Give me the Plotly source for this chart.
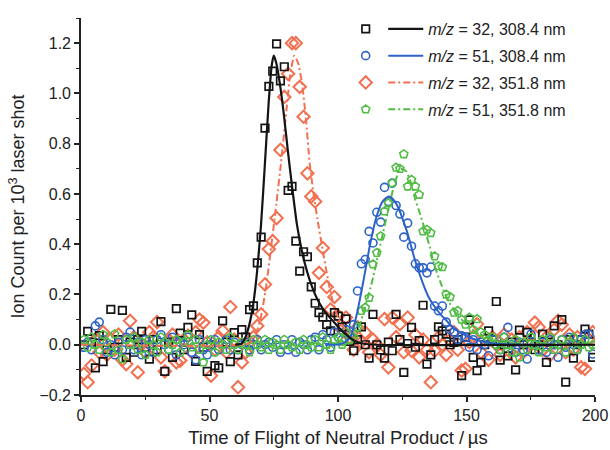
import numpy as np
import plotly.graph_objects as go

# Time-of-flight bins (microseconds), 1.5 us spacing
time_us = np.round(1.1 + 1.5 * np.arange(133), 1)

# Ion counts per 10^3 laser shots
counts_32_308 = [
    0.00, 0.053, 0.01, -0.092, 0.036, -0.067, -0.02, 0.141, -0.01, 0.02,
    0.137, -0.05, 0.01, -0.03, 0.02, 0.053, -0.01, -0.057, 0.02, -0.02,
    0.092, -0.106, 0.01, -0.05, 0.144, 0.046, -0.02, 0.069, 0.119, -0.066,
    0.04, -0.01, -0.106, 0.0, -0.083, -0.092, 0.095, 0.01, -0.067, 0.048,
    -0.04, 0.06, 0.03, 0.14, 0.155, 0.326, 0.428, 0.862, 1.028, 1.089,
    1.197, 1.05, 1.106, 0.614, 0.63, 0.412, 0.293, 0.37, 0.35, 0.23,
    0.165, 0.128, 0.11, 0.08, 0.055, 0.128, 0.114, 0.07, 0.103, 0.013,
    -0.024, 0.02, 0.071, 0.0, -0.053, 0.121, 0.0, -0.021, -0.053, 0.01,
    -0.024, 0.121, 0.02, -0.11, 0.005, 0.069, -0.01, 0.016, 0.157, -0.077,
    -0.04, 0.02, 0.071, 0.055, 0.042, 0.0, 0.009, 0.02, -0.123, 0.03,
    0.099, -0.05, -0.103, -0.07, 0.0, 0.055, 0.02, 0.172, -0.061, 0.0,
    -0.044, 0.01, -0.1, 0.058, 0.0, 0.049, 0.01, -0.02, 0.0, 0.042,
    -0.07, 0.01, 0.075, 0.0, 0.10, -0.149, 0.02, -0.053, 0.0, 0.02,
    0.062, 0.042, -0.05,
]
counts_51_308 = [
    -0.01, 0.01, -0.02, 0.075, 0.09, 0.02, -0.03, 0.0, -0.04, 0.01,
    -0.02, 0.03, 0.05, -0.02, 0.01, -0.04, 0.02, 0.0, -0.03, 0.02,
    0.04, 0.0, -0.02, 0.03, -0.04, 0.01, 0.0, 0.03, -0.03, -0.06,
    0.02, -0.02, -0.04, 0.0, 0.02, -0.02, 0.0, 0.02, -0.02, 0.01,
    -0.02, 0.0, 0.01, -0.02, 0.0, 0.02, -0.02, 0.0, 0.01, -0.01,
    0.02, -0.03, 0.0, -0.02, 0.02, -0.03, 0.01, 0.0, -0.02, 0.02,
    0.03, -0.02, 0.04, 0.02, -0.01, 0.05, 0.03, 0.02, 0.06, 0.04,
    0.08, 0.214, 0.322, 0.339, 0.451, 0.405, 0.527, 0.488, 0.626, 0.57,
    0.643, 0.554, 0.52, 0.428, 0.484, 0.392, 0.322, 0.306, 0.306, 0.286,
    0.309, 0.154, 0.135, 0.154, 0.09, 0.06, 0.05, 0.02, 0.036, 0.03,
    -0.01, 0.02, -0.02, 0.01, 0.0, -0.044, 0.02, 0.0, -0.02, 0.03,
    0.069, 0.0, -0.03, 0.01, -0.02, -0.057, 0.042, 0.0, -0.02, 0.01,
    -0.03, 0.02, 0.0, -0.05, 0.02, -0.01, 0.03, 0.0, -0.02, 0.02,
    0.04, 0.042, -0.037,
]
counts_32_352 = [
    -0.116, -0.149, -0.083, 0.02, -0.03, 0.05, -0.04, 0.02, -0.02, 0.04,
    -0.06, -0.077, 0.095, 0.03, -0.11, 0.0, -0.03, 0.05, 0.03, 0.09,
    -0.05, -0.106, 0.02, 0.04, -0.07, -0.063, 0.02, 0.036, -0.03, 0.05,
    0.1, 0.088, 0.01, -0.123, -0.02, 0.03, 0.055, -0.03, 0.15, 0.02,
    -0.169, -0.07, -0.03, 0.01, 0.03, 0.075, 0.121, 0.24, 0.381, 0.412,
    0.504, 0.775, 0.986, 1.078, 1.2, 1.2, 1.026, 0.907, 0.682, 0.59,
    0.57, 0.286, 0.385, 0.23, 0.14, 0.19, 0.115, 0.06, 0.108, 0.03,
    -0.02, 0.069, 0.01, 0.049, -0.03, 0.02, 0.0, -0.04, 0.102, -0.09,
    0.108, 0.03, 0.082, -0.03, 0.108, -0.024, 0.04, -0.05, 0.02, -0.02,
    -0.149, -0.024, 0.03, 0.0, -0.04, 0.02, 0.05, -0.02, -0.103, -0.096,
    0.01, 0.03, 0.082, -0.03, 0.02, -0.06, 0.03, 0.0, -0.04, 0.04,
    -0.02, 0.02, -0.05, 0.03, -0.03, 0.05, 0.0, 0.088, 0.07, -0.02,
    0.03, -0.04, 0.06, 0.095, 0.08, -0.03, 0.04, -0.02, 0.03, -0.09,
    -0.096, 0.02, 0.05,
]
counts_51_352 = [
    0.02, -0.01, 0.03, 0.0, -0.02, 0.04, 0.01, -0.03, 0.042, -0.02,
    -0.057, 0.02, 0.0, 0.03, -0.02, 0.01, -0.04, 0.02, 0.0, -0.03,
    0.03, 0.01, -0.02, 0.0, 0.02, -0.03, 0.01, 0.04, -0.01, 0.02,
    -0.02, -0.07, 0.0, 0.02, -0.03, 0.01, 0.0, -0.02, 0.03, 0.0,
    -0.02, 0.01, 0.0, -0.03, 0.02, 0.0, -0.01, 0.02, -0.02, 0.01,
    0.0, -0.02, 0.02, 0.0, -0.01, 0.01, -0.02, 0.02, 0.0, -0.01,
    0.02, -0.01, 0.03, 0.0, -0.02, 0.02, 0.03, 0.0, 0.05, 0.02,
    0.03, 0.07, 0.135, 0.148, 0.187, 0.32, 0.366, 0.432, 0.531, 0.564,
    0.643, 0.705, 0.70, 0.758, 0.63, 0.656, 0.63, 0.597, 0.451, 0.458,
    0.445, 0.352, 0.313, 0.309, 0.20, 0.19, 0.128, 0.135, 0.10, 0.08,
    0.108, 0.06, 0.102, 0.05, 0.04, 0.02, 0.03, 0.0, -0.02, 0.03,
    0.0, -0.03, 0.02, -0.05, 0.01, -0.02, 0.03, 0.0, -0.03, 0.02,
    -0.01, 0.03, -0.02, 0.0, 0.02, -0.03, 0.01, 0.03, -0.02, 0.0,
    0.02, -0.01, 0.0,
]

# Fitted time-of-flight profiles
fit_32_308_t = [60, 62.5, 64, 65.5, 67, 68.5, 70, 71.5, 73, 74.2, 75, 76, 77.5, 79,
                80.5, 82, 84, 86, 88, 90, 92, 94, 96, 98, 100, 103, 106, 110, 115, 200]
fit_32_308_y = [0, 0.005, 0.03, 0.08, 0.16, 0.29, 0.47, 0.71, 0.96, 1.11, 1.15, 1.12,
                1.03, 0.91, 0.77, 0.64, 0.48, 0.37, 0.29, 0.228, 0.18, 0.145, 0.118,
                0.095, 0.072, 0.042, 0.018, 0.004, 0, 0]
fit_51_308_t = [95, 99, 101, 103, 105, 107.5, 110, 112.5, 115, 117.5, 119.7, 121.5,
                123.5, 125, 127, 130, 133, 135, 137, 140, 142.3, 145, 148.7, 152,
                155, 160, 165, 172, 180]
fit_51_308_y = [0, 0, 0.003, 0.012, 0.035, 0.13, 0.26, 0.40, 0.51, 0.572, 0.59, 0.578,
                0.545, 0.505, 0.445, 0.335, 0.245, 0.195, 0.16, 0.12, 0.095, 0.066,
                0.042, 0.026, 0.016, 0.006, 0.002, 0, 0]
fit_32_352_t = [0, 64, 66, 68, 70, 72, 74, 76, 78, 80, 81.5, 83, 84.5, 86, 87.5, 89,
                90.5, 92, 94, 96, 98, 100, 102, 105, 108, 112, 118, 200]
fit_32_352_y = [0, 0, 0.01, 0.04, 0.11, 0.23, 0.39, 0.56, 0.74, 0.94, 1.08, 1.15, 1.12,
                1.04, 0.9, 0.72, 0.6, 0.5, 0.38, 0.265, 0.17, 0.11, 0.07, 0.035,
                0.015, 0.004, 0, 0]
fit_51_352_t = [100, 103, 105, 107, 110, 113.3, 116.5, 119.7, 122, 124.3, 126.5, 128.5,
                130, 132, 134, 135.8, 137.7, 139.7, 142.3, 146.2, 151.3, 156, 162,
                168, 175, 200]
fit_51_352_y = [0, 0, 0.01, 0.04, 0.13, 0.253, 0.40, 0.544, 0.64, 0.70, 0.69, 0.64,
                0.58, 0.518, 0.45, 0.385, 0.31, 0.253, 0.187, 0.121, 0.069, 0.035,
                0.012, 0.003, 0, 0]

series_labels = [
    "<i>m/z</i> = 32, 308.4 nm",
    "<i>m/z</i> = 51, 308.4 nm",
    "<i>m/z</i> = 32, 351.8 nm",
    "<i>m/z</i> = 51, 351.8 nm",
]

BLACK = "#141414"
BLUE = "#2d63c8"
ORANGE = "#f2704f"
GREEN = "#52bd45"
DASHDOT = "7px,3px,2px,3px"
FONT = "Liberation Sans, Arial, sans-serif"

fig = go.Figure()

# Data points (legend 1 holds the symbols only)
point_specs = [
    (counts_32_352, "diamond-open", 9.5, ORANGE, 2.0, 3),
    (counts_32_308, "square-open", 7.5, BLACK, 1.7, 1),
    (counts_51_308, "circle-open", 8, BLUE, 1.6, 2),
    (counts_51_352, "pentagon-open", 8.5, GREEN, 1.6, 4),
]
for vals, sym, size, col, lw, rank in point_specs:
    fig.add_trace(go.Scatter(
        x=time_us, y=vals, mode="markers", name="",
        marker=dict(symbol=sym, size=size, color=col, line=dict(width=lw, color=col)),
        legend="legend", legendrank=rank, legendgroup=f"p{rank}",
        showlegend=True,
    ))

# Fit curves (legend 2 holds the line samples and labels)
line_specs = [
    (fit_32_352_t, fit_32_352_y, ORANGE, DASHDOT, 2.0, 3),
    (fit_51_352_t, fit_51_352_y, GREEN, DASHDOT, 2.0, 4),
    (fit_51_308_t, fit_51_308_y, BLUE, "solid", 2.0, 2),
    (fit_32_308_t, fit_32_308_y, BLACK, "solid", 2.2, 1),
]
for tx, ty, col, dash, lw, rank in line_specs:
    fig.add_trace(go.Scatter(
        x=tx, y=ty, mode="lines", name=series_labels[rank - 1],
        line=dict(color=col, width=lw, dash=dash, shape="spline", smoothing=0.6),
        legend="legend2", legendrank=rank, legendgroup=f"l{rank}",
    ))

axis_common = dict(
    showline=True, linecolor="#222", linewidth=1.6,
    ticks="outside", ticklen=5, tickwidth=1.5, tickcolor="#222",
    showgrid=False, zeroline=False, mirror=False, automargin=False,
    tickfont=dict(family=FONT, size=16, color="#222"),
)

legend_common = dict(
    y=1.016, xanchor="left", yanchor="top",
    bgcolor="rgba(0,0,0,0)", borderwidth=0,
    font=dict(family=FONT, size=16, color="#222"),
    tracegroupgap=3,
)

fig.update_layout(
    width=610, height=450,
    margin=dict(l=81, r=15, t=15, b=55),
    paper_bgcolor="white", plot_bgcolor="white",
    font=dict(family=FONT, color="#222"),
    xaxis=dict(
        range=[0, 200], tickvals=[0, 50, 100, 150, 200],
        minor=dict(ticks="outside", dtick=25, ticklen=3, tickwidth=1.2, tickcolor="#222"),
        title=dict(text="Time of Flight of Neutral Product /\u2009\u00b5s",
                   font=dict(family=FONT, size=18.5, color="#222"), standoff=8),
        **axis_common,
    ),
    yaxis=dict(
        range=[-0.2, 1.3], tickvals=[-0.2, 0, 0.2, 0.4, 0.6, 0.8, 1.0, 1.2],
        tickformat=".1f",
        minor=dict(ticks="outside", dtick=0.1, ticklen=3, tickwidth=1.2, tickcolor="#222"),
        title=dict(text="Ion Count per 10<sup>3</sup> laser shot",
                   font=dict(family=FONT, size=18, color="#222"), standoff=10),
        **axis_common,
    ),
    legend=dict(x=0.515, itemwidth=30, **legend_common),
    legend2=dict(x=0.588, itemwidth=35, **legend_common),
    showlegend=True,
)

fig.write_html("out.html")
